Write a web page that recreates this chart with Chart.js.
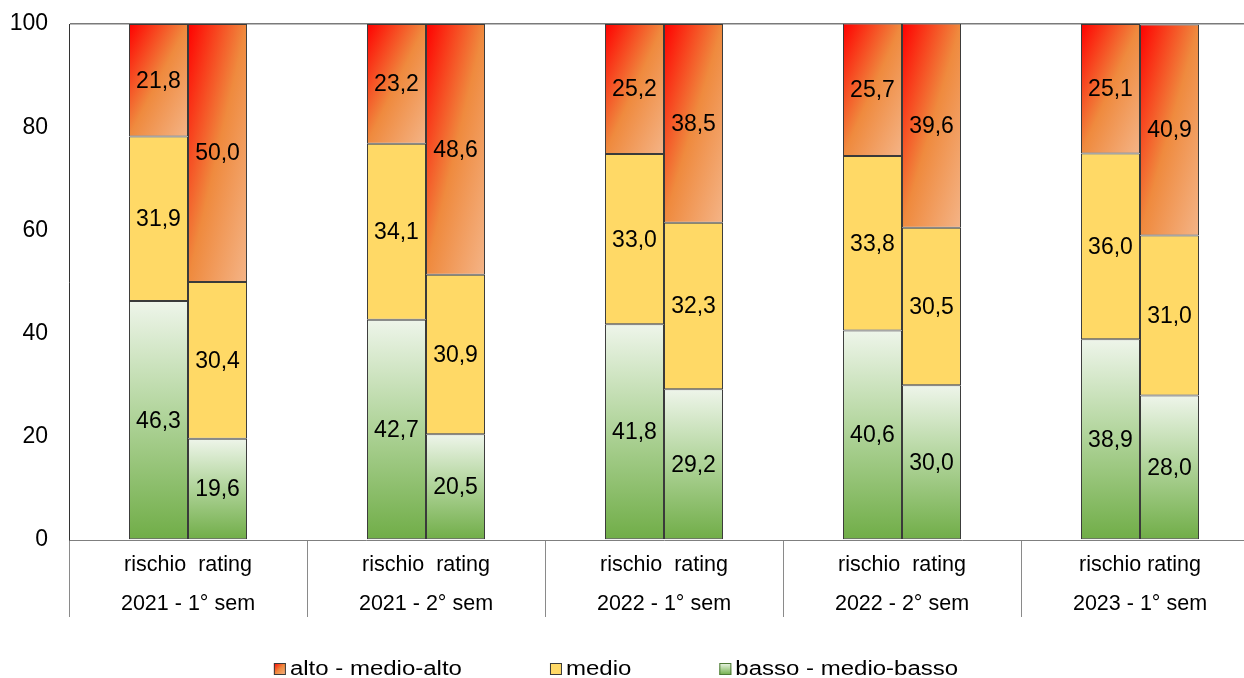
<!DOCTYPE html>
<html>
<head>
<meta charset="utf-8">
<title>Rischio e rating</title>
<script src="https://cdn.jsdelivr.net/npm/chart.js@4.4.1/dist/chart.umd.min.js"></script>
<style>
  html, body { margin: 0; padding: 0; background: #fff; overflow: hidden; }
  #wrap { position: relative; width: 1262px; height: 678px; }
</style>
</head>
<body>
<div id="wrap"><canvas id="chart"></canvas></div>
<script>
// Semesters on the category axis and the two bars drawn in each of them
const periods = ['2021 - 1° sem', '2021 - 2° sem', '2022 - 1° sem', '2022 - 2° sem', '2023 - 1° sem'];
const barNames = ['rischio  rating', 'rischio  rating', 'rischio  rating', 'rischio  rating', 'rischio rating'];

// Class shares (%) – "rischio" bars
const rischioBasso = [46.3, 42.7, 41.8, 40.6, 38.9];
const rischioMedio = [31.9, 34.1, 33.0, 33.8, 36.0];
const rischioAlto  = [21.8, 23.2, 25.2, 25.7, 25.1];

// Class shares (%) – "rating" bars
const ratingBasso = [19.6, 20.5, 29.2, 30.0, 28.0];
const ratingMedio = [30.4, 30.9, 32.3, 30.5, 31.0];
const ratingAlto  = [50.0, 48.6, 38.5, 39.6, 40.9];

const seriesNames = ['alto - medio-alto', 'medio', 'basso - medio-basso'];
const yTicks = [0, 20, 40, 60, 80, 100];

const FONT = '"Liberation Sans", Arial, Helvetica, sans-serif';
const GROUP_FRACTION = 0.496;
const YELLOW = '#ffd966';
const EDGE = '#3a3a3a';

// Pixel box of one stacked segment, worked out from the chart's scales
function segmentBox(ctx) {
  const chart = ctx.chart;
  const xs = chart.scales.x, ys = chart.scales.y;
  if (!xs || !ys || !xs.width) return null;
  const ds = chart.data.datasets[ctx.datasetIndex];
  const i = ctx.dataIndex;
  let base = 0;
  for (let k = 0; k < ctx.datasetIndex; k++) {
    const d = chart.data.datasets[k];
    if (d.stack === ds.stack) base += d.data[i];
  }
  const catW = xs.width / chart.data.labels.length;
  const barW = catW * GROUP_FRACTION / 2;
  const cx = xs.getPixelForValue(i);
  const left = ds.stack === 'rischio' ? cx - barW : cx;
  const top = ys.getPixelForValue(Math.min(base + ds.data[i], ys.max));
  const bottom = ys.getPixelForValue(base);
  return { left, right: left + barW, top, bottom };
}

// Red → orange → peach, diagonal across the segment
function hotGradient(c, l, t, w, h) {
  const k = 2 * w * h / (w * w + h * h);
  const g = c.createLinearGradient(l, t, l + h * k, t + w * k);
  g.addColorStop(0, '#ff0000');
  g.addColorStop(0.5, '#ef8a3e');
  g.addColorStop(1, '#f4b487');
  return g;
}

// Pale green at the top, deep green at the bottom
function greenGradient(c, top, bottom) {
  const g = c.createLinearGradient(0, top, 0, bottom);
  g.addColorStop(0, '#eef5ea');
  g.addColorStop(0.45, '#b4d69f');
  g.addColorStop(1, '#70ad47');
  return g;
}

function hotFill(ctx) {
  const b = segmentBox(ctx);
  if (!b) return '#ef8a3e';
  return hotGradient(ctx.chart.ctx, b.left, b.top, b.right - b.left, b.bottom - b.top);
}

function greenFill(ctx) {
  const b = segmentBox(ctx);
  if (!b) return '#a9d08e';
  return greenGradient(ctx.chart.ctx, b.top, b.bottom);
}

function series(label, data, stack, fill) {
  return {
    label, data, stack,
    backgroundColor: fill,
    borderColor: EDGE,
    borderWidth: 1,
    borderSkipped: false,
    categoryPercentage: GROUP_FRACTION,
    barPercentage: 1.0
  };
}

// Numbers written in the middle of each segment
const valueLabels = {
  id: 'valueLabels',
  afterDatasetsDraw(chart) {
    const c = chart.ctx;
    c.save();
    c.font = '23px ' + FONT;
    c.fillStyle = '#000';
    c.textAlign = 'center';
    c.textBaseline = 'middle';
    chart.data.datasets.forEach((ds, di) => {
      const meta = chart.getDatasetMeta(di);
      meta.data.forEach((el, i) => {
        const v = ds.data[i];
        const top = Math.max(el.y, chart.chartArea.top);
        const y = (top + el.base) / 2;
        c.fillText(v.toFixed(1).replace('.', ','), el.x, y + 1);
      });
    });
    c.restore();
  }
};

// Legend row under the axis
const legendRow = {
  id: 'legendRow',
  afterDraw(chart) {
    const c = chart.ctx;
    const stretch = 1.2, box = 12, textGap = 16, itemGap = 88, centerX = 616, cy = 669;
    c.save();
    c.font = '20px ' + FONT;
    const widths = seriesNames.map(s => c.measureText(s).width * stretch);
    const total = widths.reduce((a, w) => a + textGap + w, 0) + itemGap * (seriesNames.length - 1);
    let x = centerX - total / 2;
    seriesNames.forEach((name, i) => {
      const bt = cy - 6;
      let fill;
      if (i === 0) fill = hotGradient(c, x, bt, box, box);
      else if (i === 1) fill = YELLOW;
      else fill = greenGradient(c, bt, bt + box);
      c.fillStyle = fill;
      c.fillRect(x, bt, box, box);
      c.strokeStyle = i === 2 ? '#4f7a36' : EDGE;
      c.lineWidth = 1;
      c.strokeRect(x + 0.5, bt + 0.5, box - 1, box - 1);
      c.save();
      c.translate(x + textGap, cy);
      c.scale(stretch, 1);
      c.fillStyle = '#000';
      c.textAlign = 'left';
      c.textBaseline = 'middle';
      c.fillText(name, 0, 0);
      c.restore();
      x += textGap + widths[i] + itemGap;
    });
    c.restore();
  }
};

const chart = new Chart(document.getElementById('chart'), {
  type: 'bar',
  data: {
    labels: periods.map((p, i) => [barNames[i], p]),
    datasets: [
      series(seriesNames[2], rischioBasso, 'rischio', greenFill),
      series(seriesNames[1], rischioMedio, 'rischio', YELLOW),
      series(seriesNames[0], rischioAlto,  'rischio', hotFill),
      series(seriesNames[2], ratingBasso,  'rating',  greenFill),
      series(seriesNames[1], ratingMedio,  'rating',  YELLOW),
      series(seriesNames[0], ratingAlto,   'rating',  hotFill)
    ]
  },
  options: {
    responsive: true,
    maintainAspectRatio: false,
    devicePixelRatio: 1,
    animation: false,
    events: [],
    layout: { padding: { top: 24, right: 3, bottom: 60, left: 0 } },
    plugins: {
      legend: { display: false },
      tooltip: { enabled: false }
    },
    scales: {
      x: {
        stacked: true,
        offset: true,
        grid: {
          display: true,
          offset: true,
          drawOnChartArea: false,
          drawTicks: true,
          tickLength: 77,
          color: '#8a8a8a',
          lineWidth: 1
        },
        border: { display: true, color: '#7f7f7f', width: 1 },
        ticks: {
          autoSkip: false,
          maxRotation: 0,
          minRotation: 0,
          padding: -71.5,
          color: '#000',
          font: { family: FONT, size: 21.5, lineHeight: 39 / 21.5 }
        },
        afterFit(scale) { scale.height = 78; }
      },
      y: {
        stacked: true,
        min: yTicks[0],
        max: yTicks[yTicks.length - 1],
        afterBuildTicks(scale) { scale.ticks = yTicks.map(v => ({ value: v })); },
        grid: {
          drawTicks: false,
          color: c => (c.tick && c.tick.value === yTicks[yTicks.length - 1]) ? '#7a7a7a' : 'rgba(0,0,0,0)',
          lineWidth: 1.5
        },
        border: { display: true, color: '#333', width: 1 },
        ticks: {
          padding: 21,
          color: '#000',
          font: { family: FONT, size: 23 }
        },
        afterFit(scale) {
          scale.width = 69;
          scale.paddingTop = 0;
          scale.paddingBottom = 0;
        }
      }
    }
  },
  plugins: [valueLabels, legendRow]
});
</script>
</body>
</html>
